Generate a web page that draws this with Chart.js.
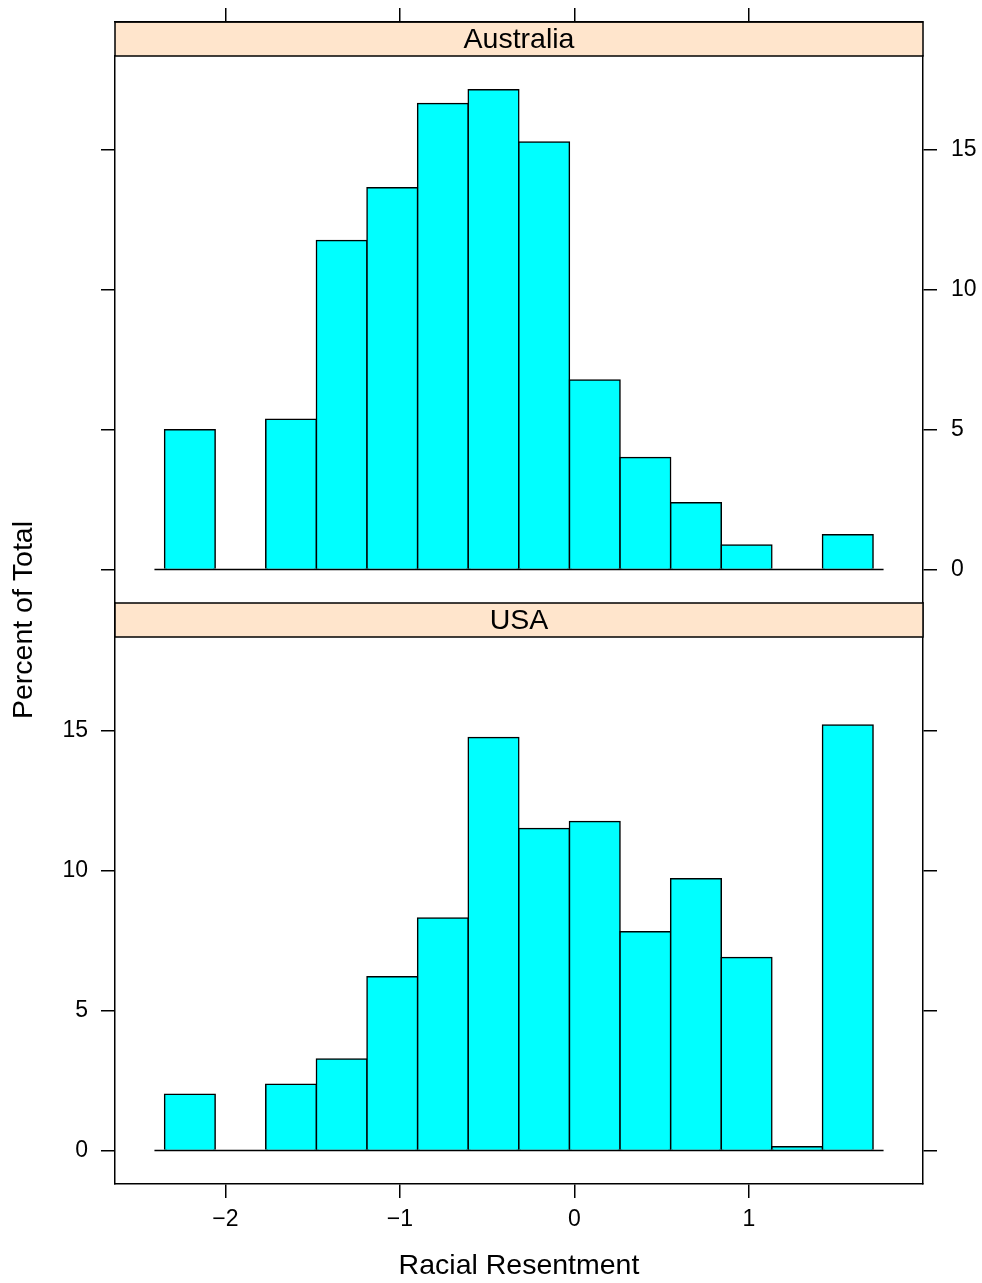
<!DOCTYPE html>
<html>
<head>
<meta charset="utf-8">
<title>Racial Resentment</title>
<script src="https://cdn.jsdelivr.net/npm/chart.js"></script>
<style>
  html, body { margin: 0; padding: 0; background: #fff; overflow: hidden; }
  #wrap { width: 982px; height: 1283px; }
</style>
</head>
<body>
<div id="wrap"><canvas id="histChart" width="982" height="1283"></canvas></div>
<script>
'use strict'

// histogram breaks on the Racial Resentment scale
var binEdges = [-2.349, -2.059, -1.769, -1.479, -1.189, -0.899, -0.609, -0.319, -0.029, 0.261, 0.551, 0.841, 1.131, 1.421, 1.711];
// percent of total in each bin
var australia = [4.99, 0, 5.37, 11.76, 13.64, 16.65, 17.14, 15.28, 6.77, 4.00, 2.38, 0.87, 0, 1.24];
var usa = [2.01, 0, 2.37, 3.27, 6.21, 8.31, 14.76, 11.51, 11.76, 7.82, 9.71, 6.90, 0.13, 15.21];
var panels = ['Australia', 'USA'];
var xTicks = [-2, -1, 0, 1];
var yTicks = [0, 5, 10, 15];
var baseline = [-2.407, 1.771];

Chart.defaults.font.family = '"Liberation Sans", Arial, Helvetica, sans-serif';
Chart.defaults.color = '#000';

var stripColor = '#ffe5cc';
var lineW = 1.5;
var labelSize = 28.5;
var tickSize = 23;

function binPoints(values) {
  return values.map(function(v, i) {
    return { x: (binEdges[i] + binEdges[i + 1]) / 2, y: v };
  });
}

function fmt(v) {
  return v < 0 ? '\u2212' + Math.abs(v) : String(v);
}

function fixTicks(list) {
  return function(scale) {
    scale.ticks = list.map(function(v) { return { value: v }; });
  };
}

var axisGrid = { drawOnChartArea: false, offset: false, color: '#000', tickColor: '#000', tickWidth: lineW, lineWidth: lineW, tickLength: 14 };
var axisBorder = { color: '#000', width: lineW };

var barStyle = {
  type: 'bar',
  backgroundColor: '#00ffff',
  borderColor: '#000',
  borderWidth: lineW,
  inflateAmount: lineW / 2,
  borderSkipped: 'start',
  barPercentage: 1,
  categoryPercentage: 1,
  grouped: false,
  xAxisID: 'x'
};

var zeroLine = {
  type: 'line',
  borderColor: '#000',
  borderWidth: lineW,
  pointRadius: 0,
  fill: false,
  order: -1,
  xAxisID: 'x'
};

// strip labels above each panel
var stripPlugin = {
  id: 'strips',
  beforeDraw: function(chart) {
    var ctx = chart.ctx, area = chart.chartArea, t = chart.titleBlock;
    ctx.save();
    ctx.fillStyle = stripColor;
    ctx.fillRect(area.left, t.top, area.right - area.left, t.height);
    ctx.lineWidth = lineW;
    ctx.strokeStyle = '#000';
    ctx.strokeRect(area.left, t.top, area.right - area.left, t.height);
    ctx.restore();
  },
  afterDatasetsDraw: function(chart) {
    var ctx = chart.ctx, area = chart.chartArea, t = chart.titleBlock;
    var top = chart.scales.yU.top;
    ctx.save();
    ctx.fillStyle = stripColor;
    ctx.fillRect(area.left, top, area.right - area.left, t.height);
    ctx.lineWidth = lineW;
    ctx.strokeStyle = '#000';
    ctx.strokeRect(area.left, top, area.right - area.left, t.height);
    ctx.fillStyle = '#000';
    ctx.font = labelSize + 'px "Liberation Sans", Arial, Helvetica, sans-serif';
    ctx.textAlign = 'center';
    ctx.textBaseline = 'middle';
    ctx.fillText(panels[1], (area.left + area.right) / 2, top + (t.height + 2) / 2);
    ctx.restore();
  }
};

var histChart = new Chart(document.getElementById('histChart'), {
  type: 'bar',
  data: {
    datasets: [
      Object.assign({ label: panels[0], data: binPoints(australia), yAxisID: 'yA' }, barStyle),
      Object.assign({ label: panels[1], data: binPoints(usa), yAxisID: 'yU' }, barStyle),
      Object.assign({ data: baseline.map(function(x) { return { x: x, y: 0 }; }), yAxisID: 'yA' }, zeroLine),
      Object.assign({ data: baseline.map(function(x) { return { x: x, y: 0 }; }), yAxisID: 'yU' }, zeroLine)
    ]
  },
  options: {
    responsive: false,
    animation: false,
    layout: { padding: 0 },
    plugins: {
      legend: { display: false },
      tooltip: { enabled: false },
      title: {
        display: true,
        text: panels[0],
        fullSize: false,
        weight: 2000,
        color: '#000',
        font: { size: labelSize, weight: 'normal', lineHeight: '32px' },
        padding: { top: 2, bottom: 0 }
      }
    },
    scales: {
      x: {
        type: 'linear', position: 'bottom', min: -2.633, max: 1.997, offset: false,
        grid: axisGrid, border: axisBorder,
        ticks: { font: { size: tickSize }, padding: 8, maxRotation: 0, callback: fmt },
        title: { display: true, text: 'Racial Resentment', font: { size: labelSize }, padding: 0 },
        afterBuildTicks: fixTicks(xTicks),
        afterFit: function(s) { s.height = 99; }
      },
      x2: {
        type: 'linear', position: 'top', weight: 3000, min: -2.633, max: 1.997, offset: false,
        grid: axisGrid, border: axisBorder,
        ticks: { display: false },
        afterBuildTicks: fixTicks(xTicks),
        afterFit: function(s) { s.height = 22; }
      },
      ytitle: {
        type: 'linear', position: 'left', weight: 10, min: 0, max: 1,
        grid: { display: false }, border: { display: false },
        ticks: { display: false },
        title: { display: true, text: 'Percent of Total', font: { size: labelSize }, padding: { top: 7, bottom: 0 } },
        afterFit: function(s) { s.width = 35; }
      },
      yA: {
        type: 'linear', position: 'left', stack: 'left', stackWeight: 547, weight: 2,
        min: -1.2, max: 18.35,
        grid: axisGrid, border: axisBorder,
        ticks: { display: false },
        afterBuildTicks: fixTicks(yTicks),
        afterFit: function(s) { s.width = 80; }
      },
      yU: {
        type: 'linear', position: 'left', stack: 'left', stackWeight: 581, weight: 1,
        min: -1.2, max: 19.57,
        grid: axisGrid, border: axisBorder,
        ticks: { font: { size: tickSize }, padding: 13, callback: fmt },
        afterBuildTicks: fixTicks(yTicks),
        afterFit: function(s) { s.width = 80; }
      },
      yAr: {
        type: 'linear', position: 'right', stack: 'right', stackWeight: 547, weight: 1,
        min: -1.2, max: 18.35,
        grid: axisGrid, border: axisBorder,
        ticks: { font: { size: tickSize }, padding: 14, callback: fmt },
        afterBuildTicks: fixTicks(yTicks),
        afterFit: function(s) { s.width = 59; }
      },
      yUr: {
        type: 'linear', position: 'right', stack: 'right', stackWeight: 581, weight: 2,
        min: -1.2, max: 19.57,
        grid: axisGrid, border: axisBorder,
        ticks: { display: false },
        afterBuildTicks: fixTicks(yTicks),
        afterFit: function(s) { s.width = 59; }
      }
    }
  },
  plugins: [stripPlugin]
});
</script>
</body>
</html>
